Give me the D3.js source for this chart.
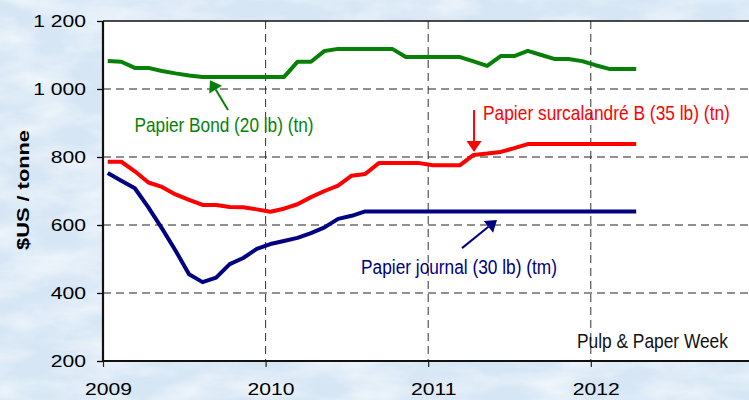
<!DOCTYPE html>
<html>
<head>
<meta charset="utf-8">
<script src="https://cdn.jsdelivr.net/npm/d3@7"></script>
<style>
  body { margin: 0; background: #d9e8f5; }
  svg { display: block; }
</style>
</head>
<body>
<div id="chart"></div>
<script>
// monthly prices, Jan 2009 .. Apr 2012 ($US / tonne)
var startYear = 2009;
var nMonths = 40;
var bond = [1082,1080,1062,1062,1053,1046,1040,1035,1035,1035,
            1035,1035,1035,1035,1080,1080,1112,1118,1118,1118,
            1118,1118,1094,1094,1094,1094,1094,1081,1068,1097,
            1097,1112,1100,1088,1088,1082,1070,1059,1059,1059];
var surcal = [786,786,758,725,712,690,674,659,659,653,
              652,646,639,648,661,682,700,716,745,750,
              782,782,782,782,776,776,776,806,810,815,
              826,838,838,838,838,838,838,838,838,838];
var journal = [753,730,708,652,590,525,455,432,445,485,
               503,530,544,553,562,576,593,618,627,640,
               640,640,640,640,640,640,640,640,640,640,
               640,640,640,640,640,640,640,640,640,640];
var yTicks = [200, 400, 600, 800, 1000, 1200];
var xTicks = [2009, 2010, 2011, 2012];

var W = 749, H = 400;
var margin = { left: 103, top: 21, bottom: 39 };

var x = d3.scaleLinear().domain([2009, 2013]).range([margin.left, 753.4]);
var y = d3.scaleLinear().domain([200, 1200]).range([H - margin.bottom, margin.top]);

var dates = d3.range(nMonths).map(function (i) { return startYear + (i + 0.35) / 12; });

var fmt = d3.formatLocale({ decimal: ",", thousands: " ", grouping: [3], currency: ["", "$"] }).format(",d");

var svg = d3.select("#chart").append("svg")
    .attr("width", W).attr("height", H)
    .style("font-family", "Arial, 'Liberation Sans', sans-serif");

// mottled background
var defs = svg.append("defs");
var f = defs.append("filter").attr("id", "mottle").attr("x", 0).attr("y", 0).attr("width", 1).attr("height", 1);
f.append("feTurbulence").attr("type", "fractalNoise").attr("baseFrequency", "0.015 0.04")
    .attr("numOctaves", 4).attr("seed", 7);
f.append("feColorMatrix").attr("type", "matrix")
    .attr("values", "0 0 0 0 1  0 0 0 0 1  0 0 0 0 1  0 0 0 1.6 -0.55");

svg.append("rect").attr("width", W).attr("height", H).attr("fill", "#d6e6f5");
svg.append("rect").attr("width", W).attr("height", H).attr("filter", "url(#mottle)").attr("opacity", 0.75);

// plot area
svg.append("rect")
    .attr("x", x(2009)).attr("y", y(1200))
    .attr("width", W - x(2009) + 5).attr("height", y(200) - y(1200))
    .attr("fill", "#fff");

function stretch(sel, k) {
    sel.each(function () {
        var n = this.getComputedTextLength();
        d3.select(this).attr("textLength", n * k).attr("lengthAdjust", "spacingAndGlyphs");
    });
}

// narrow text: shrink the font to fit the width, then scale it back up vertically
function fitText(t, px, py, width, fs) {
    t.style("font-size", fs + "px");
    var n = t.node().getComputedTextLength();
    var fs2 = fs * width / n;
    t.style("font-size", fs2 + "px")
        .attr("transform", "translate(" + px + "," + py + ") scale(1," + (fs / fs2) + ")");
}

// grid
svg.append("g").selectAll("line")
    .data(yTicks.filter(function (d) { return d > 200 && d < 1200; }))
    .enter().append("line")
    .attr("x1", x(2009)).attr("x2", W)
    .attr("y1", function (d) { return y(d); }).attr("y2", function (d) { return y(d); })
    .attr("stroke", "#222").attr("stroke-width", 1).attr("stroke-dasharray", "8,5");

svg.append("g").selectAll("line")
    .data(xTicks.slice(1))
    .enter().append("line")
    .attr("x1", function (d) { return x(d); }).attr("x2", function (d) { return x(d); })
    .attr("y1", y(1200)).attr("y2", y(200))
    .attr("stroke", "#333").attr("stroke-width", 1).attr("stroke-dasharray", "8,5");

// axes
var yAxis = svg.append("g").attr("transform", "translate(" + x(2009) + ",0)")
    .call(d3.axisLeft(y).tickValues(yTicks).tickSize(6).tickFormat(fmt));
yAxis.select(".domain").remove();
yAxis.selectAll(".tick line").attr("stroke", "#000").attr("stroke-width", 1.3);
yAxis.selectAll(".tick text")
    .attr("x", -17).attr("dy", "0.36em")
    .style("font-size", "16.5px").attr("fill", "#000")
    .call(stretch, 1.28);

var xAxis = svg.append("g").attr("transform", "translate(0," + y(200) + ")")
    .call(d3.axisBottom(x).tickValues(xTicks).tickSize(6).tickFormat(d3.format("d")));
xAxis.select(".domain").remove();
xAxis.selectAll(".tick line").attr("stroke", "#222").attr("stroke-width", 1.2);
xAxis.selectAll(".tick text")
    .attr("y", 22).attr("dx", 5).attr("dy", "0.71em")
    .style("font-size", "16.5px").attr("fill", "#000")
    .call(stretch, 1.28);

// frame lines
svg.append("line").attr("x1", x(2009)).attr("x2", W).attr("y1", y(1200)).attr("y2", y(1200))
    .attr("stroke", "#111").attr("stroke-width", 1.5);
svg.append("line").attr("x1", x(2009)).attr("x2", W).attr("y1", y(200)).attr("y2", y(200))
    .attr("stroke", "#111").attr("stroke-width", 2.2);
svg.append("line").attr("x1", x(2009)).attr("x2", x(2009)).attr("y1", y(1200)).attr("y2", y(200))
    .attr("stroke", "#111").attr("stroke-width", 2.2);

// y title
var yt = svg.append("text")
    .attr("transform", "translate(29," + 190 + ") rotate(-90)")
    .attr("text-anchor", "middle")
    .style("font-size", "17px").style("font-weight", "bold")
    .text("$US / tonne");
yt.attr("textLength", 120).attr("lengthAdjust", "spacingAndGlyphs");

// series
var line = d3.line()
    .x(function (d, i) { return x(dates[i]); })
    .y(function (d) { return y(d); });

var series = [
    { values: bond, color: "#078007" },
    { values: surcal, color: "#ff0000" },
    { values: journal, color: "#000080" }
];
svg.append("g").selectAll("path")
    .data(series)
    .enter().append("path")
    .attr("d", function (d) { return line(d.values); })
    .attr("fill", "none")
    .attr("stroke", function (d) { return d.color; })
    .attr("stroke-width", 4)
    .attr("stroke-linejoin", "round");

// annotations (positions in data units)
var notes = [
    { text: "Papier Bond (20 lb) (tn)", color: "#078007", tx: 2009.194, ty: 873, w: 179,
      from: [2009.769, 938], to: [2009.658, 1026] },
    { text: "Papier surcalandré B (35 lb) (tn)", color: "#ff0000", tx: 2011.337, ty: 909, w: 247,
      from: [2011.282, 938], to: [2011.282, 815] },
    { text: "Papier journal (30 lb) (tm)", color: "#000080", tx: 2010.587, ty: 456, w: 196,
      from: [2011.208, 532], to: [2011.423, 615] }
];

var ann = svg.append("g");
notes.forEach(function (n) {
    var t = ann.append("text")
        .attr("fill", n.color)
        .text(n.text);
    fitText(t, x(n.tx), y(n.ty), n.w, 20);

    var x0 = x(n.from[0]), y0 = y(n.from[1]), x1 = x(n.to[0]), y1 = y(n.to[1]);
    var dx = x1 - x0, dy = y1 - y0, len = Math.sqrt(dx * dx + dy * dy);
    var ux = dx / len, uy = dy / len, hl = 11, hw = 7.5;
    var bx = x1 - ux * hl, by = y1 - uy * hl;
    ann.append("line")
        .attr("x1", x0).attr("y1", y0).attr("x2", bx).attr("y2", by)
        .attr("stroke", n.color).attr("stroke-width", 2);
    ann.append("path")
        .attr("d", "M" + x1 + "," + y1 +
            "L" + (bx - uy * hw) + "," + (by + ux * hw) +
            "L" + (bx + uy * hw) + "," + (by - ux * hw) + "Z")
        .attr("fill", n.color);
});

// source
var src = svg.append("text")
    .attr("fill", "#111")
    .text("Pulp & Paper Week");
fitText(src, x(2011.915), y(238), 151, 20);
</script>
</body>
</html>
